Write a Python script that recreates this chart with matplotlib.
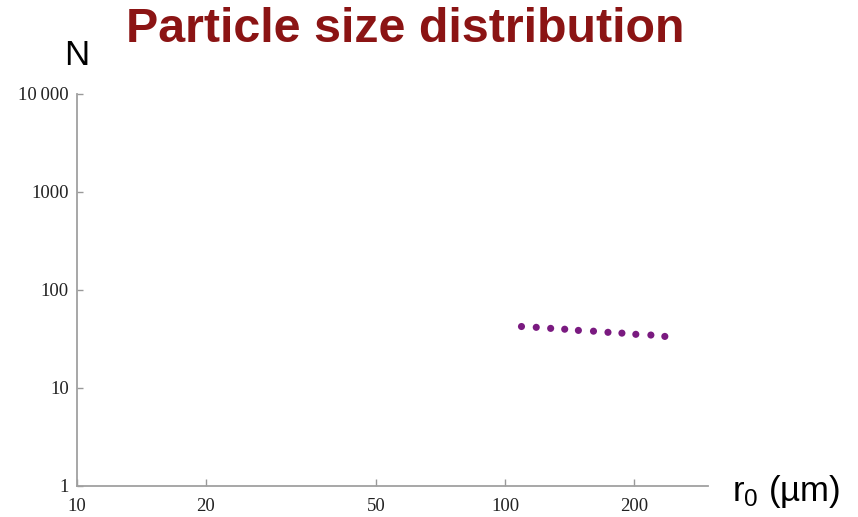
import numpy as np
import matplotlib.pyplot as plt
from matplotlib.ticker import FixedLocator, NullLocator

plt.rcParams["mathtext.fontset"] = "custom"
plt.rcParams["mathtext.rm"] = "Liberation Sans"
plt.rcParams["mathtext.it"] = "Liberation Sans"

# data
r0 = [109, 118, 127.5, 137.5, 148, 160.5, 173.5, 187, 201.5, 218.5, 235.5]
N = [42.4, 41.6, 40.6, 39.8, 38.7, 38.0, 37.0, 36.3, 35.3, 34.7, 33.6]

xticks = [10, 20, 50, 100, 200]
xticklabels = ["10", "20", "50", "100", "200"]
yticks = [1, 10, 100, 1000, 10000]
yticklabels = ["1", "10", "100", "1000", "10\u2009000"]

W, H = 858, 517
fig = plt.figure(figsize=(W / 100, H / 100), dpi=100)
ax = fig.add_axes([77 / W, 1 - 486 / H, (708 - 77) / W, (486 - 94) / H])

ax.scatter(r0, N, s=26, color="#7a1a80", edgecolors="none", zorder=3)

ax.set_xscale("log")
ax.set_yscale("log")
ax.set_xlim(10, 297)
ax.set_ylim(1, 10000)

serif = ["Liberation Serif", "DejaVu Serif"]
ax.xaxis.set_major_locator(FixedLocator(xticks))
ax.xaxis.set_minor_locator(NullLocator())
ax.yaxis.set_major_locator(FixedLocator(yticks))
ax.yaxis.set_minor_locator(NullLocator())
ax.set_xticklabels(xticklabels, family=serif, fontsize=13.5, color="#222222")
ax.set_yticklabels(yticklabels, family=serif, fontsize=13.5, color="#222222")

ax.tick_params(axis="x", direction="in", length=5, width=1, color="#999999", pad=8.5)
ax.tick_params(axis="y", direction="in", length=4, width=1, color="#999999", pad=6)

for side in ["top", "right"]:
    ax.spines[side].set_visible(False)
for side in ["left", "bottom"]:
    ax.spines[side].set_color("#a0a0a0")
    ax.spines[side].set_linewidth(1.3)

fig.text(126 / W, 1 - 42 / H, "Particle size distribution", fontsize=34.8, fontweight="bold",
         color="#8b1414", family="Liberation Sans", va="baseline", ha="left")
fig.text(64 / W, 1 - 65 / H, "N", fontsize=25, family="Liberation Sans", va="baseline")
fig.text(732 / W, 1 - 491 / H, "r$_0$ (µm)", fontsize=25, family="Liberation Sans", va="center")

fig.savefig("out.png", dpi=100, facecolor="white")
